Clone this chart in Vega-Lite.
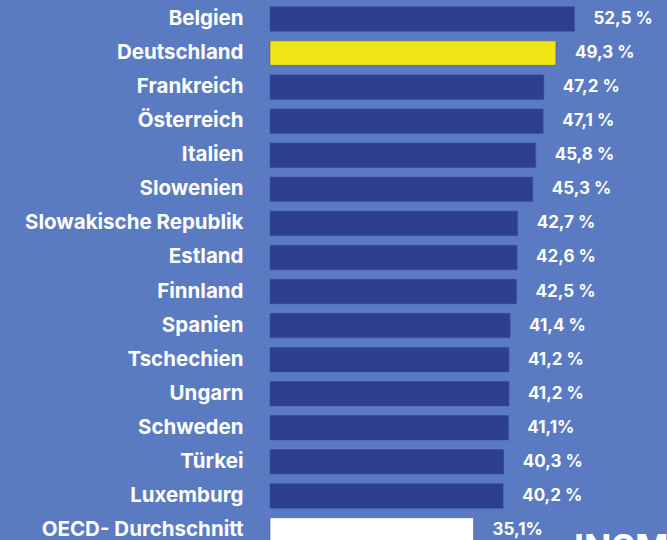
{
  "$schema": "https://vega.github.io/schema/vega-lite/v6.json",
  "width": 397,
  "height": 545,
  "padding": {"left": 270, "top": 2, "right": 0, "bottom": 0},
  "autosize": {"type": "none"},
  "background": "#5a7bc1",
  "config": {"view": {"stroke": null}},
  "data": {
    "values": [
      {"land": "Belgien", "wert": 52.5, "label": "52,5 %", "gruppe": "land"},
      {"land": "Deutschland", "wert": 49.3, "label": "49,3 %", "gruppe": "de"},
      {"land": "Frankreich", "wert": 47.2, "label": "47,2 %", "gruppe": "land"},
      {"land": "Österreich", "wert": 47.1, "label": "47,1 %", "gruppe": "land"},
      {"land": "Italien", "wert": 45.8, "label": "45,8 %", "gruppe": "land"},
      {"land": "Slowenien", "wert": 45.3, "label": "45,3 %", "gruppe": "land"},
      {"land": "Slowakische Republik", "wert": 42.7, "label": "42,7 %", "gruppe": "land"},
      {"land": "Estland", "wert": 42.6, "label": "42,6 %", "gruppe": "land"},
      {"land": "Finnland", "wert": 42.5, "label": "42,5 %", "gruppe": "land"},
      {"land": "Spanien", "wert": 41.4, "label": "41,4 %", "gruppe": "land"},
      {"land": "Tschechien", "wert": 41.2, "label": "41,2 %", "gruppe": "land"},
      {"land": "Ungarn", "wert": 41.2, "label": "41,2 %", "gruppe": "land"},
      {"land": "Schweden", "wert": 41.1, "label": "41,1%", "gruppe": "land"},
      {"land": "Türkei", "wert": 40.3, "label": "40,3 %", "gruppe": "land"},
      {"land": "Luxemburg", "wert": 40.2, "label": "40,2 %", "gruppe": "land"},
      {"land": "OECD- Durchschnitt", "wert": 35.1, "label": "35,1%", "gruppe": "oecd"}
    ]
  },
  "encoding": {
    "y": {
      "field": "land",
      "type": "nominal",
      "sort": null,
      "scale": {"paddingInner": 0.28, "paddingOuter": 0.14},
      "axis": {
        "title": null,
        "ticks": false,
        "domain": false,
        "labelPadding": 27,
        "labelColor": "#ffffff",
        "labelFont": "Inter",
        "labelFontWeight": "bold",
        "labelFontSize": 20.5,
        "labelLimit": 300
      }
    }
  },
  "layer": [
    {
      "mark": {"type": "bar", "stroke": "#3a4a98", "strokeWidth": 0.5},
      "encoding": {
        "x": {
          "field": "wert",
          "type": "quantitative",
          "scale": {"domain": [0, 68.45], "nice": false},
          "axis": null
        },
        "color": {
          "field": "gruppe",
          "type": "nominal",
          "scale": {"domain": ["land", "de", "oecd"], "range": ["#2f3f8f", "#efe515", "#ffffff"]},
          "legend": null
        }
      }
    },
    {
      "mark": {"type": "text", "align": "left", "baseline": "middle", "dx": 19, "color": "#ffffff", "font": "Inter", "fontWeight": "bold", "fontSize": 17},
      "encoding": {
        "x": {"field": "wert", "type": "quantitative"},
        "text": {"field": "label"}
      }
    },
    {
      "data": {"values": [{"logo": "INSM", "pos": 52.4, "zeile": "OECD- Durchschnitt"}]},
      "mark": {"type": "text", "align": "left", "baseline": "top", "dy": 2, "color": "#ffffff", "font": "Inter", "fontWeight": "bold", "fontSize": 36},
      "encoding": {
        "x": {"field": "pos", "type": "quantitative"},
        "y": {"field": "zeile", "type": "nominal"},
        "text": {"field": "logo"}
      }
    }
  ]
}
